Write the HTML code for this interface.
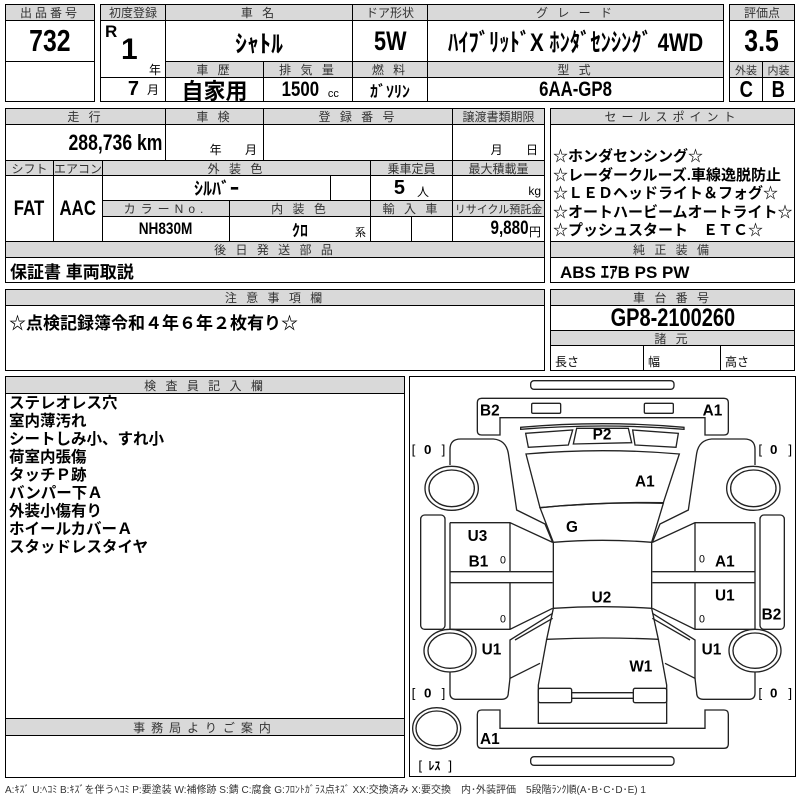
<!DOCTYPE html>
<html><head><meta charset="utf-8">
<style>
body{margin:0;background:#fff;width:800px;height:800px;position:relative;overflow:hidden;font-family:"Liberation Sans","Noto Sans CJK JP",sans-serif;color:#000}
.c{position:absolute;border:1.3px solid #000;box-sizing:border-box;display:flex;align-items:center;justify-content:center;overflow:hidden;white-space:nowrap}
.g{background:#d9d9d9;font-size:12px;letter-spacing:3px;color:#333}
.v{font-weight:bold}
.t{position:absolute;white-space:nowrap}
.n{display:inline-block;transform:scaleX(.8)}
.nr{display:inline-block;transform:scaleX(.8);transform-origin:right center}
</style></head><body>
<!-- top block -->
<div class="c g" style="left:5px;top:4px;width:90px;height:17px">出品番号</div>
<div class="c v" style="left:5px;top:20px;width:90px;height:42px;font-size:31px"><span class="n">732</span></div>
<div class="c" style="left:5px;top:61px;width:90px;height:41px"></div>

<div class="c g" style="left:100px;top:4px;width:66px;height:17px;letter-spacing:0">初度登録</div>
<div class="c" style="left:100px;top:20px;width:66px;height:58px"></div>
<div class="t v" style="left:105px;top:22px;font-size:17px">R</div>
<div class="t v" style="left:121px;top:33px;font-size:30px">1</div>
<div class="t" style="left:149px;top:61px;font-size:12px">年</div>
<div class="c" style="left:100px;top:77px;width:66px;height:25px;justify-content:flex-end;padding-right:6px"><span class="v" style="font-size:20px">7</span><span style="font-size:12px;margin-left:8px">月</span></div>

<div class="c g" style="left:165px;top:4px;width:188px;height:17px">車 名</div>
<div class="c v" style="left:165px;top:20px;width:188px;height:42px;font-size:24px">ｼｬﾄﾙ</div>
<div class="c g" style="left:352px;top:4px;width:76px;height:17px;letter-spacing:0">ドア形状</div>
<div class="c v" style="left:352px;top:20px;width:76px;height:42px;font-size:27px"><span class="n">5W</span></div>
<div class="c g" style="left:427px;top:4px;width:297px;height:17px">グ レ ー ド</div>
<div class="c v" style="left:427px;top:20px;width:297px;height:42px;font-size:25px"><span style="display:inline-block;transform:scaleX(.82)">ﾊｲﾌﾞﾘｯﾄﾞX ﾎﾝﾀﾞｾﾝｼﾝｸﾞ 4WD</span></div>

<div class="c g" style="left:165px;top:61px;width:99px;height:17px">車 歴</div>
<div class="c g" style="left:263px;top:61px;width:90px;height:17px">排 気 量</div>
<div class="c g" style="left:352px;top:61px;width:76px;height:17px">燃 料</div>
<div class="c g" style="left:427px;top:61px;width:297px;height:17px">型 式</div>
<div class="c v" style="left:165px;top:77px;width:99px;height:25px;font-size:22px">自家用</div>
<div class="c" style="left:263px;top:77px;width:90px;height:25px"><span class="v n" style="font-size:21px">1500</span><span style="font-size:11px;margin-left:4px;margin-top:8px">cc</span></div>
<div class="c v" style="left:352px;top:77px;width:76px;height:25px;font-size:16px">ｶﾞｿﾘﾝ</div>
<div class="c v" style="left:427px;top:77px;width:297px;height:25px;font-size:21px"><span class="n">6AA-GP8</span></div>

<div class="c g" style="left:729px;top:4px;width:66px;height:17px;letter-spacing:0">評価点</div>
<div class="c v" style="left:729px;top:20px;width:66px;height:42px;font-size:31px"><span class="n">3.5</span></div>
<div class="c g" style="left:729px;top:61px;width:34px;height:17px;letter-spacing:0;font-size:11px">外装</div>
<div class="c g" style="left:762px;top:61px;width:33px;height:17px;letter-spacing:0;font-size:11px">内装</div>
<div class="c v" style="left:729px;top:77px;width:34px;height:25px;font-size:23px"><span class="n">C</span></div>
<div class="c v" style="left:762px;top:77px;width:33px;height:25px;font-size:23px"><span class="n">B</span></div>

<!-- second block -->
<div class="c g" style="left:5px;top:108px;width:161px;height:17px">走 行</div>
<div class="c g" style="left:165px;top:108px;width:99px;height:17px">車 検</div>
<div class="c g" style="left:263px;top:108px;width:190px;height:17px">登 録 番 号</div>
<div class="c g" style="left:452px;top:108px;width:93px;height:17px;letter-spacing:0">譲渡書類期限</div>
<div class="c v" style="left:5px;top:124px;width:161px;height:37px;font-size:22px;justify-content:flex-end;padding-right:3px"><span class="nr">288,736 km</span></div>
<div class="c" style="left:165px;top:124px;width:99px;height:37px;align-items:flex-end;font-size:12px;padding-bottom:2px;justify-content:flex-end;padding-right:6px">年&nbsp;&nbsp;&nbsp;&nbsp;&nbsp;&nbsp;&nbsp;月</div>
<div class="c" style="left:263px;top:124px;width:190px;height:37px"></div>
<div class="c" style="left:452px;top:124px;width:93px;height:37px;align-items:flex-end;font-size:12px;padding-bottom:2px;justify-content:flex-end;padding-right:6px">月&nbsp;&nbsp;&nbsp;&nbsp;&nbsp;&nbsp;&nbsp;日</div>

<div class="c g" style="left:5px;top:160px;width:49px;height:16px;letter-spacing:0">シフト</div>
<div class="c g" style="left:53px;top:160px;width:50px;height:16px;letter-spacing:0">エアコン</div>
<div class="c g" style="left:102px;top:160px;width:269px;height:16px">外 装 色</div>
<div class="c g" style="left:370px;top:160px;width:83px;height:16px;letter-spacing:0">乗車定員</div>
<div class="c g" style="left:452px;top:160px;width:93px;height:16px;letter-spacing:0">最大積載量</div>
<div class="c v" style="left:5px;top:175px;width:49px;height:67px;font-size:21px"><span class="n">FAT</span></div>
<div class="c v" style="left:53px;top:175px;width:50px;height:67px;font-size:21px"><span class="n">AAC</span></div>
<div class="c v" style="left:102px;top:175px;width:229px;height:26px;font-size:18px">ｼﾙﾊﾞｰ</div>
<div class="c" style="left:330px;top:175px;width:41px;height:26px"></div>
<div class="c" style="left:370px;top:175px;width:83px;height:26px"><span class="v" style="font-size:20px">5</span><span style="font-size:12px;margin-left:12px;margin-top:6px">人</span></div>
<div class="c" style="left:452px;top:175px;width:93px;height:26px;justify-content:flex-end;padding-right:3px;font-size:12px;padding-top:6px">kg</div>
<div class="c g" style="left:102px;top:200px;width:128px;height:17px;letter-spacing:5px">カラーNo.</div>
<div class="c g" style="left:229px;top:200px;width:142px;height:17px">内 装 色</div>
<div class="c g" style="left:370px;top:200px;width:83px;height:17px">輸 入 車</div>
<div class="c g" style="left:452px;top:200px;width:93px;height:17px;letter-spacing:0;font-size:11px">リサイクル預託金</div>
<div class="c v" style="left:102px;top:216px;width:128px;height:26px;font-size:17px"><span class="n">NH830M</span></div>
<div class="c" style="left:229px;top:216px;width:142px;height:26px"><span class="v" style="font-size:16px">ｸﾛ</span></div>
<div class="t" style="left:355px;top:224px;font-size:11px">系</div>
<div class="c" style="left:370px;top:216px;width:42px;height:26px"></div>
<div class="c" style="left:411px;top:216px;width:42px;height:26px"></div>
<div class="c" style="left:452px;top:216px;width:93px;height:26px;justify-content:flex-end;padding-right:3px"><span class="v nr" style="font-size:19px">9,880</span><span style="font-size:12px;margin-top:4px">円</span></div>
<div class="c g" style="left:5px;top:241px;width:540px;height:17px">後 日 発 送 部 品</div>
<div class="c v" style="left:5px;top:257px;width:540px;height:26px;font-size:17px;justify-content:flex-start;padding-left:4px">保証書 車両取説</div>

<!-- sales -->
<div class="c g" style="left:550px;top:108px;width:245px;height:17px;letter-spacing:5px">セールスポイント</div>
<div class="c" style="left:550px;top:124px;width:245px;height:118px;display:block;font-weight:bold;font-size:15px;line-height:18.5px;padding:23px 0 0 2px">☆ホンダセンシング☆<br>☆レーダークルーズ.車線逸脱防止<br>☆ＬＥＤヘッドライト＆フォグ☆<br>☆オートハービームオートライト☆<br>☆プッシュスタート　ＥＴＣ☆</div>
<div class="c g" style="left:550px;top:241px;width:245px;height:17px">純 正 装 備</div>
<div class="c v" style="left:550px;top:257px;width:245px;height:26px;font-size:17px;justify-content:flex-start;padding-left:9px">ABS ｴｱB PS PW</div>

<!-- third -->
<div class="c g" style="left:5px;top:289px;width:540px;height:17px">注 意 事 項 欄</div>
<div class="c v" style="left:5px;top:305px;width:540px;height:66px;font-size:17px;align-items:flex-start;justify-content:flex-start;padding:3px 0 0 3px">☆点検記録簿令和４年６年２枚有り☆</div>
<div class="c g" style="left:550px;top:289px;width:245px;height:17px">車 台 番 号</div>
<div class="c v" style="left:550px;top:305px;width:245px;height:26px;font-size:25px"><span class="n">GP8-2100260</span></div>
<div class="c g" style="left:550px;top:330px;width:245px;height:16px">諸 元</div>
<div class="c" style="left:550px;top:345px;width:94px;height:26px;font-size:12px;justify-content:flex-start;padding:6px 0 0 4px">長さ</div>
<div class="c" style="left:643px;top:345px;width:78px;height:26px;font-size:12px;justify-content:flex-start;padding:6px 0 0 4px">幅</div>
<div class="c" style="left:720px;top:345px;width:75px;height:26px;font-size:12px;justify-content:flex-start;padding:6px 0 0 4px">高さ</div>

<!-- fourth -->
<div class="c g" style="left:5px;top:376px;width:400px;height:18px">検 査 員 記 入 欄</div>
<div class="c" style="left:5px;top:393px;width:400px;height:326px;display:block;font-weight:bold;font-size:15.5px;line-height:18px;padding:1px 0 0 3px">ステレオレス穴<br>室内薄汚れ<br>シートしみ小、すれ小<br>荷室内張傷<br>タッチＰ跡<br>バンパー下Ａ<br>外装小傷有り<br>ホイールカバーＡ<br>スタッドレスタイヤ</div>
<div class="c g" style="left:5px;top:718px;width:400px;height:18px;letter-spacing:6px">事務局よりご案内</div>
<div class="c" style="left:5px;top:735px;width:400px;height:43px"></div>
<div class="c" style="left:409px;top:376px;width:387px;height:401px"></div>

<svg style="position:absolute;left:400px;top:370px" width="400" height="430" viewBox="0 0 1200 1290">
<defs>
<g id="side" fill="none" stroke="#222" stroke-width="4">
  <path d="M150,285 L150,238 Q150,207 182,207 L280,207 Q318,210 325,250 L350,420 L435,462 L458,517"/>
  <ellipse cx="155" cy="355" rx="80" ry="66"/>
  <ellipse cx="155" cy="355" rx="68" ry="55"/>
  <rect x="62" y="435" width="73" height="343" rx="12"/>
  <path d="M150,458 L330,458 L458,517 M330,458 L330,605 M150,458 L150,778 L330,778 L458,715 M330,638 L330,778 M150,605 L458,605 M150,638 L458,638"/>
  <ellipse cx="150" cy="842" rx="78" ry="64"/>
  <ellipse cx="150" cy="842" rx="66" ry="53"/>
  <path d="M458,730 L330,810 L330,925 L420,880 M458,745 L345,810"/>
  <path d="M150,905 L150,970 Q150,988 170,988 L305,988 Q325,988 325,968 L330,925"/>
</g>
</defs>
<g fill="none" stroke="#222" stroke-width="4">
  <rect x="392" y="32" width="430" height="26" rx="10"/>
  <path d="M245,85 L972,85 Q985,85 985,98 L985,183 Q985,195 972,195 L915,195 L915,143 L300,143 L300,195 L245,195 Q232,195 232,183 L232,98 Q232,85 245,85 Z"/>
  <rect x="395" y="100" width="87" height="30" rx="4"/>
  <rect x="733" y="100" width="87" height="30" rx="4"/>
  <path d="M362,172 Q607,150 852,172 L852,178 Q607,158 362,178 Z"/>
  <path d="M377,190 L518,180 L505,225 L385,232 Z"/>
  <path d="M530,175 L685,175 L695,218 L520,222 Z"/>
  <path d="M698,180 L835,190 L828,232 L705,225 Z"/>
  <path d="M378,252 Q607,232 838,252 L790,398 Q607,395 420,413 Z"/>
  <path d="M420,413 Q607,395 790,400 L755,517 Q607,505 460,517 Z"/>
  <path d="M460,517 L460,715 Q607,705 755,715 L755,517"/>
  <path d="M460,715 L440,808 Q607,800 775,808 L755,715"/>
  <path d="M440,808 L415,945 L415,1060 L800,1060 L800,945 L775,808"/>
  <rect x="415" y="955" width="100" height="43" rx="5"/>
  <rect x="700" y="955" width="100" height="43" rx="5"/>
  <path d="M515,968 L700,968 M515,985 L700,985"/>
  <path d="M245,1020 L300,1020 L300,1075 L915,1075 L915,1020 L972,1020 Q985,1020 985,1033 L985,1122 Q985,1135 972,1135 L245,1135 Q232,1135 232,1122 L232,1033 Q232,1020 245,1020 Z"/>
  <rect x="392" y="1160" width="430" height="26" rx="10"/>
  <ellipse cx="110" cy="1075" rx="72" ry="62"/>
  <ellipse cx="110" cy="1075" rx="62" ry="52"/>
</g>
<use href="#side"/>
<use href="#side" transform="translate(1215,0) scale(-1,1)"/>
<g font-family="Liberation Sans, sans-serif" font-weight="bold" font-size="46" fill="#000">
  <text x="240" y="136">B2</text><text x="908" y="136">A1</text>
  <text x="578" y="208">P2</text><text x="705" y="350">A1</text>
  <text x="498" y="486">G</text>
  <text x="203" y="513">U3</text><text x="206" y="590">B1</text>
  <text x="945" y="590">A1</text><text x="945" y="692">U1</text>
  <text x="575" y="697">U2</text><text x="1085" y="748">B2</text>
  <text x="245" y="853">U1</text><text x="905" y="853">U1</text>
  <text x="688" y="905">W1</text><text x="240" y="1122">A1</text>
</g>
<g font-family="Liberation Sans, sans-serif" font-size="40" fill="#000">
  <text x="35" y="252">[</text><text x="72" y="252" font-weight="bold">0</text><text x="125" y="252">]</text>
  <text x="1075" y="252">[</text><text x="1110" y="252" font-weight="bold">0</text><text x="1165" y="252">]</text>
  <text x="35" y="982">[</text><text x="72" y="982" font-weight="bold">0</text><text x="125" y="982">]</text>
  <text x="1075" y="982">[</text><text x="1110" y="982" font-weight="bold">0</text><text x="1165" y="982">]</text>
  <text x="55" y="1200">[</text><text x="85" y="1200" font-weight="bold" font-family="Liberation Sans, Noto Sans CJK JP, sans-serif" font-size="36">ﾚｽ</text><text x="145" y="1200">]</text>
  <text x="300" y="580" font-size="32">0</text><text x="300" y="757" font-size="32">0</text>
  <text x="897" y="578" font-size="32">0</text><text x="897" y="757" font-size="32">0</text>
</g>
</svg>

<div class="t" style="left:5px;top:781px;font-size:10px;color:#333;font-family:'Liberation Sans','Noto Sans CJK JP',sans-serif">A:ｷｽﾞ U:ﾍｺﾐ B:ｷｽﾞを伴うﾍｺﾐ P:要塗装 W:補修跡 S:錆 C:腐食 G:ﾌﾛﾝﾄｶﾞﾗｽ点ｷｽﾞ XX:交換済み X:要交換　内･外装評価　5段階ﾗﾝｸ順(A･B･C･D･E) 1</div>
</body></html>
